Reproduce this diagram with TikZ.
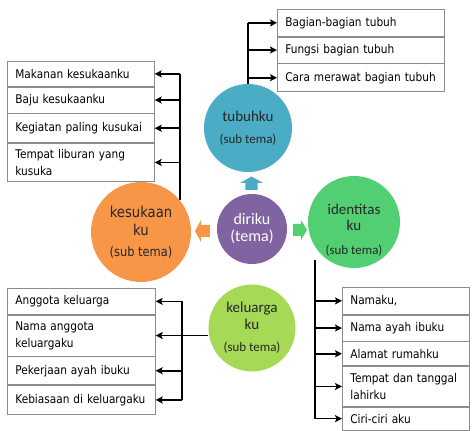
\documentclass[tikz,border=0pt]{standalone}
\usepackage{fontspec}
\usetikzlibrary{arrows.meta, positioning, calc}
\newfontfamily\itemfamily[FakeStretch=0.88]{DejaVu Sans}
\newfontfamily\roundfamily{Carlito}
\definecolor{tema-purple}{HTML}{8064A2}
\definecolor{tubuh-teal}{HTML}{4BACC6}
\definecolor{suka-orange}{HTML}{F79646}
\definecolor{identitas-green}{HTML}{52CF72}
\definecolor{keluarga-green}{HTML}{A6D955}
\tikzset{
    my-item/.style={
        draw=gray!90, line width=0.7pt, rectangle, align=left, inner xsep=8pt, inner ysep=2pt,
        font=\itemfamily\fontsize{12}{17}\selectfont
    },
    my-circle/.style={
        circle, inner sep=0pt, align=center, text=black!85
    },
    my-wire/.style={
        line width=1.6pt
    },
    my-arrow/.style={
        line width=1.6pt, -{Stealth[length=7pt, width=7pt, inset=1.5pt]}
    },
}
\begin{document}
\begin{tikzpicture}[x=1pt, y=1pt]
        \useasboundingbox (-252,-202) rectangle (222,229);

        % THEME AND SUB THEMES
        \node[my-circle, fill=tema-purple, minimum size=70pt, text=white, font=\roundfamily\fontsize{16}{17}\selectfont]
            (DIRIKU) at (0, 0) {diriku\\(tema)};
        \node[my-circle, fill=tubuh-teal, minimum size=88pt, font=\roundfamily\fontsize{15}{17}\selectfont]
            (TUBUHKU) at ($(DIRIKU) + (-4, 101)$) {tubuhku\\[5pt]\fontsize{13}{17}\selectfont (sub tema)};
        \node[my-circle, fill=suka-orange, minimum size=100pt, font=\itemfamily\fontsize{15}{18}\selectfont]
            (KESUKAAN) at ($(DIRIKU) + (-111, -3)$) {kesukaan\\ku\\[3pt]\fontsize{13}{18}\selectfont (sub tema)};
        \node[my-circle, fill=identitas-green, minimum size=92pt]
            (IDENTITAS) at ($(DIRIKU) + (102, 7)$) {};
        \node[my-circle, font=\roundfamily\fontsize{15}{16}\selectfont]
            (IDENTITASTEXT) at ($(IDENTITAS) + (0, -8)$) {identitas\\ku\\[8pt]\fontsize{13}{16}\selectfont (sub tema)};
        \node[my-circle, fill=keluarga-green, minimum size=87pt, font=\roundfamily\fontsize{15}{17}\selectfont]
            (KELUARGA) at ($(DIRIKU) + (0, -99)$) {keluarga\\ku\\[5pt]\fontsize{13}{17}\selectfont (sub tema)};

        % BLOCK ARROWS AROUND THE THEME
        \coordinate (UPARROW)    at ($(DIRIKU) + (-0.5, 46)$);
        \coordinate (LEFTARROW)  at ($(DIRIKU) + (-49.5, -2)$);
        \coordinate (RIGHTARROW) at ($(DIRIKU) + (48, -1)$);
        \fill[tubuh-teal] ($(UPARROW) + (-6, -7)$) -- ++(12, 0) -- ++(0, 7) -- ++(5.5, 0)
            -- ++(-11.5, 6.5) -- ++(-11.5, -6.5) -- ++(5.5, 0) -- cycle;
        \fill[suka-orange] ($(LEFTARROW) + (7.5, -6)$) -- ++(0, 12) -- ++(-9, 0) -- ++(0, 5)
            -- ++(-6, -11) -- ++(6, -11) -- ++(0, 5) -- cycle;
        \fill[identitas-green] ($(RIGHTARROW) + (-7, -6)$) -- ++(0, 12) -- ++(8, 0) -- ++(0, 4)
            -- ++(6, -10) -- ++(-6, -10) -- ++(0, 4) -- cycle;

        % TUBUHKU ITEMS
        \node[my-item, text width=151pt, minimum height=27pt, anchor=north west] (TUB1) at ($(DIRIKU) + (25, 220)$) {Bagian-bagian tubuh};
        \node[my-item, text width=151pt, minimum height=26pt, below=0pt of TUB1] (TUB2) {Fungsi bagian tubuh};
        \node[my-item, text width=151pt, minimum height=28pt, below=0pt of TUB2] (TUB3) {Cara merawat bagian tubuh};

        % KESUKAAN ITEMS
        \node[my-item, text width=131pt, minimum height=25pt, anchor=north west] (KES1) at ($(DIRIKU) + (-245, 168)$) {Makanan kesukaanku};
        \node[my-item, text width=131pt, minimum height=26pt, below=0pt of KES1] (KES2) {Baju kesukaanku};
        \node[my-item, text width=131pt, minimum height=29pt, below=0pt of KES2] (KES3) {Kegiatan paling kusukai};
        \node[my-item, text width=131pt, minimum height=38pt, below=0pt of KES3] (KES4) {Tempat liburan yang\\kusuka};

        % KELUARGA ITEMS
        \node[my-item, text width=132pt, minimum height=26pt, anchor=north west] (KEL1) at ($(DIRIKU) + (-245, -59)$) {Anggota keluarga};
        \node[my-item, text width=132pt, minimum height=41pt, below=0pt of KEL1] (KEL2) {Nama anggota\\keluargaku};
        \node[my-item, text width=132pt, minimum height=28pt, below=0pt of KEL2] (KEL3) {Pekerjaan ayah ibuku};
        \node[my-item, text width=132pt, minimum height=29pt, below=0pt of KEL3] (KEL4) {Kebiasaan di keluargaku};

        % IDENTITAS ITEMS
        \node[my-item, text width=111pt, minimum height=27pt, anchor=north west] (IDN1) at ($(DIRIKU) + (90, -58)$) {Namaku,};
        \node[my-item, text width=111pt, minimum height=26pt, below=0pt of IDN1] (IDN2) {Nama ayah ibuku};
        \node[my-item, text width=111pt, minimum height=24pt, below=0pt of IDN2] (IDN3) {Alamat rumahku};
        \node[my-item, text width=111pt, minimum height=40pt, below=0pt of IDN3] (IDN4) {Tempat dan tanggal\\lahirku};
        \node[my-item, text width=111pt, minimum height=23pt, below=0pt of IDN4] (IDN5) {Ciri-ciri aku};

        % WIRES - TUBUHKU
        \draw[my-wire]  (TUBUHKU.north) -- (TUBUHKU.north |- TUB1.west);
        \draw[my-arrow] (TUBUHKU.north |- TUB1.west) -- (TUB1.west);
        \draw[my-arrow] (TUBUHKU.north |- TUB2.west) -- (TUB2.west);
        \draw[my-arrow] (TUBUHKU.north |- TUB3.west) -- (TUB3.west);

        % WIRES - KESUKAAN
        \draw[my-wire]  (KESUKAAN.39) -- (KESUKAAN.39 |- KES1.east);
        \draw[my-arrow] (KESUKAAN.39 |- KES1.east) -- (KES1.east);
        \draw[my-arrow] (KESUKAAN.39 |- KES2.east) -- (KES2.east);
        \draw[my-arrow] (KESUKAAN.39 |- KES3.east) -- (KES3.east);
        \draw[my-arrow] (KESUKAAN.39 |- KES4.east) -- (KES4.east);

        % WIRES - KELUARGA
        \coordinate (KELTRUNK) at ($(KELUARGA.west) + (-26, 0)$);
        \draw[my-wire]  (KELTRUNK |- KEL1.east) -- (KELTRUNK |- KEL4.east);
        \draw[my-arrow] (KELUARGA.west |- KEL2.east) -- (KEL2.east);
        \draw[my-arrow] (KELTRUNK |- KEL1.east) -- (KEL1.east);
        \draw[my-arrow] (KELTRUNK |- KEL3.east) -- (KEL3.east);
        \draw[my-arrow] (KELTRUNK |- KEL4.east) -- (KEL4.east);

        % WIRES - IDENTITAS
        \coordinate (IDTRUNK) at ($(IDENTITAS) + (-39, -38)$);
        \draw[my-wire]  (IDTRUNK) -- (IDTRUNK |- IDN5.west);
        \draw[my-arrow] (IDTRUNK |- IDN1.west) -- (IDN1.west);
        \draw[my-arrow] (IDTRUNK |- IDN2.west) -- (IDN2.west);
        \draw[my-arrow] (IDTRUNK |- IDN3.west) -- (IDN3.west);
        \draw[my-arrow] (IDTRUNK |- IDN4.west) -- (IDN4.west);
        \draw[my-arrow] (IDTRUNK |- IDN5.west) -- (IDN5.west);

    \end{tikzpicture}
\end{document}
